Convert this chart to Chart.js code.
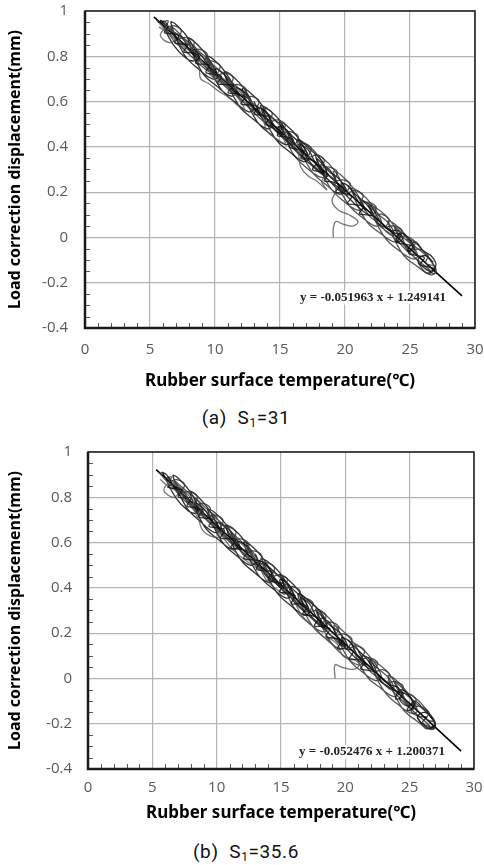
<!DOCTYPE html>
<html>
<head>
<meta charset="utf-8">
<script src="https://cdn.jsdelivr.net/npm/chart.js@4.4.1/dist/chart.umd.min.js"></script>
<style>
  body { margin: 0; background: #fff; width: 484px; height: 865px; position: relative; overflow: hidden; }
  canvas { position: absolute; left: 0; }
  #chartA { top: 0; }
  #chartB { top: 440px; }
  .caption { position: absolute; left: 4px; width: 484px; text-align: center; font: 19px Roboto, sans-serif; letter-spacing: 0.6px; color: #111; line-height: 20px; }
  .caption sub { font-size: 12px; vertical-align: -3px; }
</style>
</head>
<body>
<canvas id="chartA" width="484" height="400"></canvas>
<div class="caption" style="top:408px">(a)&nbsp;&nbsp;S<sub>1</sub>=31</div>
<canvas id="chartB" width="484" height="395"></canvas>
<div class="caption" style="top:842px">(b)&nbsp;&nbsp;S<sub>1</sub>=35.6</div>
<script>
const xTicks = [0, 5, 10, 15, 20, 25, 30];
const yTicks = [-0.4, -0.2, 0, 0.2, 0.4, 0.6, 0.8, 1];

// (a) S1=31 : traces, [temperature, displacement]
const traceA1 = [[5.6,0.95],[6.0,0.955],[6.4,0.93],[6.1,0.905],[6.6,0.90],[7.2,0.89],[6.9,0.86],[7.4,0.855],[7.9,0.85],[7.6,0.82],[8.2,0.815],[8.8,0.80],[8.5,0.77],[9.1,0.765],[9.6,0.76],[9.3,0.73],[9.9,0.72],[10.5,0.71],[10.2,0.68],[10.8,0.675],[11.4,0.67],[11.0,0.64],[11.7,0.635],[12.3,0.62],[12.0,0.59],[12.7,0.585],[13.3,0.575],[13.0,0.545],[13.6,0.54],[14.2,0.53],[13.9,0.50],[14.5,0.49],[15.1,0.48],[14.8,0.45],[15.4,0.445],[16.0,0.43],[15.7,0.40],[16.3,0.39],[16.9,0.38],[16.6,0.35],[17.2,0.345],[17.8,0.33],[17.5,0.30],[18.1,0.29],[18.7,0.28],[18.4,0.25],[19.0,0.245],[19.6,0.23],[19.3,0.20],[19.9,0.195],[20.5,0.18],[20.2,0.15],[20.8,0.145],[21.4,0.135],[21.1,0.105],[21.7,0.10],[22.3,0.09],[22.6,0.06],[23.2,0.04],[23.8,0.02],[24.3,0.01],[24.0,-0.02],[24.6,-0.03],[25.2,-0.04],[24.9,-0.07],[25.5,-0.08],[26.1,-0.09],[25.8,-0.12],[26.4,-0.13],[26.9,-0.14],[26.5,-0.16]];
const traceA2 = [[26.8,-0.125],[26.2,-0.113],[26.4,-0.079],[25.8,-0.053],[25.2,-0.051],[25.4,-0.022],[24.8,0.004],[24.2,0.006],[24.4,0.030],[23.8,0.051],[23.2,0.048],[23.4,0.077],[22.8,0.103],[22.2,0.095],[22.4,0.134],[21.8,0.155],[21.2,0.152],[21.4,0.186],[20.8,0.207],[20.2,0.199],[20.4,0.238],[19.8,0.254],[19.2,0.251],[19.4,0.290],[18.8,0.311],[18.2,0.308],[18.4,0.342],[17.8,0.363],[17.2,0.355],[17.4,0.394],[16.8,0.415],[16.2,0.407],[16.4,0.446],[15.8,0.467],[15.2,0.464],[15.4,0.498],[14.8,0.519],[14.2,0.511],[14.4,0.550],[13.8,0.571],[13.2,0.568],[13.4,0.602],[12.8,0.623],[12.2,0.615],[12.4,0.654],[11.8,0.675],[11.2,0.672],[11.4,0.706],[10.8,0.727],[10.2,0.719],[10.4,0.758],[9.8,0.779],[9.2,0.776],[9.4,0.810],[8.8,0.831],[8.2,0.823],[8.4,0.862],[7.8,0.883],[7.2,0.880],[7.4,0.914],[6.8,0.935],[6.2,0.927],[6.4,0.956],[5.9,0.952]];
const traceA3 = [[5.7,0.93],[6.3,0.905],[6.9,0.875],[6.5,0.86],[5.8,0.89],[6.2,0.92],[7.0,0.90],[7.8,0.86],[8.6,0.80],[8.8,0.74],[8.9,0.70],[9.5,0.68],[10.3,0.645],[11.0,0.62],[11.8,0.58],[12.3,0.555],[12.0,0.60],[11.2,0.65],[10.0,0.70],[9.6,0.725],[10.4,0.71],[11.5,0.66],[12.6,0.61],[13.5,0.555],[14.0,0.47],[14.6,0.44],[15.4,0.415],[15.2,0.45],[15.8,0.43],[16.4,0.37],[16.6,0.31],[17.2,0.27],[17.8,0.25],[18.6,0.21],[18.2,0.25],[18.9,0.27],[19.3,0.21],[19.0,0.16],[19.5,0.12],[20.3,0.10],[21.0,0.07],[20.6,0.05],[19.8,0.06],[19.3,0.07],[19.1,0.04],[19.1,0.0]];
const traceA4 = [[5.8,0.96],[6.5,0.92],[7.1,0.875],[6.8,0.905],[7.5,0.88],[8.0,0.83],[8.6,0.795],[8.3,0.83],[9.0,0.80],[9.7,0.74],[10.3,0.71],[10.0,0.745],[10.7,0.72],[11.3,0.66],[11.9,0.625],[11.6,0.66],[12.3,0.64],[12.9,0.575],[13.5,0.54],[13.2,0.575],[13.9,0.555],[14.6,0.49],[15.2,0.45],[14.9,0.49],[15.6,0.47],[16.2,0.41],[16.8,0.37],[16.5,0.41],[17.2,0.385],[17.8,0.32],[18.4,0.28],[18.1,0.32],[18.8,0.30],[19.4,0.24],[20.0,0.20],[19.7,0.24],[20.4,0.22],[21.0,0.16],[21.6,0.12],[21.3,0.16],[22.0,0.14],[22.5,0.09],[23.0,0.05],[23.6,0.03],[24.1,0.03],[24.4,-0.01],[23.9,-0.02],[24.3,0.02],[25.0,-0.01],[25.3,-0.05],[24.8,-0.06],[25.4,-0.02],[26.0,-0.06],[26.6,-0.08],[27.0,-0.12],[26.6,-0.15],[26.0,-0.13],[25.6,-0.10],[26.2,-0.08],[26.8,-0.11]];
const traceA5 = [[6.0,0.95],[6.8,0.87],[7.6,0.83],[8.4,0.79],[8.8,0.78],[8.4,0.84],[7.6,0.88],[6.9,0.92],[6.6,0.93],[7.2,0.86],[8.0,0.81],[8.8,0.765],[9.6,0.73],[10.0,0.725],[9.6,0.78],[8.8,0.82],[8.2,0.855],[8.0,0.86],[8.8,0.78],[9.6,0.735],[10.4,0.69],[11.2,0.645],[11.6,0.64],[11.2,0.69],[10.4,0.735],[9.6,0.775],[9.4,0.79],[10.2,0.71],[11.0,0.665],[11.8,0.62],[12.6,0.575],[13.0,0.565],[12.6,0.62],[11.8,0.66],[11.0,0.70],[10.8,0.71],[11.6,0.63],[12.4,0.585],[13.2,0.54],[14.0,0.50],[14.4,0.49]];
const traceA6 = [[13.0,0.60],[13.8,0.51],[14.6,0.475],[15.4,0.43],[16.0,0.41],[15.4,0.48],[14.6,0.52],[13.8,0.56],[13.6,0.57],[14.4,0.49],[15.2,0.445],[16.0,0.40],[16.8,0.355],[17.2,0.35],[16.8,0.40],[16.0,0.445],[15.2,0.49],[15.0,0.50],[15.8,0.41],[16.6,0.36],[17.4,0.32],[18.2,0.28],[18.6,0.28],[18.2,0.34],[17.4,0.385],[16.6,0.425],[16.4,0.43],[17.2,0.34],[18.0,0.295],[18.8,0.25],[19.6,0.205],[20.2,0.19],[19.6,0.255],[18.8,0.29],[18.0,0.34],[17.8,0.35],[18.6,0.26],[19.4,0.225],[20.2,0.18],[21.0,0.135],[21.8,0.10],[22.2,0.10],[21.6,0.15],[20.8,0.19],[20.2,0.23]];
const traceA7 = [[21.0,0.18],[21.8,0.10],[22.6,0.06],[23.4,0.015],[23.8,0.01],[23.4,0.06],[22.6,0.10],[22.0,0.13],[21.8,0.14],[22.6,0.055],[23.4,0.02],[24.2,-0.025],[25.0,-0.07],[25.4,-0.07],[25.0,-0.02],[24.2,0.03],[23.8,0.045],[24.6,-0.04],[25.4,-0.09],[26.2,-0.13],[26.8,-0.16],[27.0,-0.14],[26.4,-0.09],[25.6,-0.05],[24.9,-0.02],[24.4,0.0],[25.2,-0.08],[26.0,-0.12],[26.6,-0.15],[26.2,-0.155],[25.6,-0.11]];
const traceA8 = [[5.5,0.96],[6.3,0.91],[7.1,0.87],[7.9,0.83],[8.3,0.825],[7.7,0.87],[6.9,0.905],[6.5,0.925],[7.3,0.865],[8.1,0.82],[8.9,0.78],[9.7,0.74],[10.1,0.735],[9.5,0.775],[8.7,0.815],[8.5,0.825],[9.3,0.755],[10.1,0.715],[10.9,0.675],[11.7,0.63],[12.5,0.59],[12.9,0.585],[12.3,0.63],[11.5,0.67],[11.1,0.69],[11.9,0.62],[12.7,0.58],[13.5,0.535],[14.3,0.495],[15.1,0.455],[15.5,0.45],[14.9,0.50],[14.1,0.54],[13.7,0.555],[14.5,0.48],[15.3,0.44],[16.1,0.40],[16.9,0.36],[17.3,0.355]];
const traceA9 = [[5.8,0.96],[6.8,0.85],[7.8,0.79],[8.4,0.78],[8.6,0.80],[8.0,0.875],[7.0,0.94],[6.6,0.95],[7.6,0.81],[8.8,0.74],[9.8,0.70],[10.2,0.71],[9.4,0.80],[8.4,0.865],[7.9,0.88],[9.0,0.73],[10.2,0.665],[11.2,0.625],[11.6,0.64],[10.8,0.73],[9.8,0.79],[9.3,0.80],[10.4,0.66],[11.6,0.595],[12.6,0.555],[13.0,0.57],[12.2,0.66],[11.2,0.72],[10.7,0.73],[11.8,0.585],[13.0,0.52],[14.0,0.48],[14.4,0.495],[13.6,0.585],[12.6,0.645],[12.1,0.655],[13.2,0.515],[14.4,0.45],[15.4,0.41],[15.8,0.425],[15.0,0.515],[14.0,0.57],[13.5,0.58],[14.6,0.44],[15.8,0.375],[16.8,0.335],[17.2,0.35],[16.4,0.44],[15.4,0.50],[14.9,0.51]];
const traceA10 = [[15.0,0.50],[16.0,0.37],[17.2,0.30],[18.2,0.265],[18.6,0.28],[17.8,0.37],[16.8,0.42],[16.3,0.43],[17.4,0.295],[18.6,0.23],[19.6,0.19],[20.0,0.205],[19.2,0.295],[18.2,0.355],[17.7,0.365],[18.8,0.225],[20.0,0.155],[21.0,0.12],[21.4,0.135],[20.6,0.22],[19.6,0.28],[19.1,0.29],[20.2,0.15],[21.4,0.085],[22.4,0.05],[22.8,0.07],[22.0,0.15],[21.0,0.205],[20.5,0.215],[21.6,0.075],[22.8,0.015],[23.8,-0.02],[24.2,0.0],[23.4,0.08],[22.4,0.13],[21.9,0.14],[23.0,0.005],[24.2,-0.06],[25.2,-0.095],[25.6,-0.08],[24.8,0.0],[23.8,0.06],[23.3,0.07],[24.4,-0.07],[25.6,-0.13],[26.6,-0.165],[27.0,-0.15],[26.2,-0.07],[25.2,-0.015],[24.7,-0.01]];
const fitA = [[5.3, 0.974], [29.0, -0.258]];
const eqA = 'y = -0.051963 x + 1.249141';

// (b) S1=35.6
const traceB1 = [[5.7,0.911],[6.1,0.90],[6.5,0.859],[6.2,0.845],[6.7,0.839],[7.3,0.832],[7.0,0.803],[7.5,0.797],[8.0,0.796],[7.7,0.761],[8.3,0.755],[8.9,0.743],[8.6,0.714],[9.2,0.708],[9.7,0.701],[9.4,0.672],[10.0,0.666],[10.6,0.654],[10.3,0.620],[10.9,0.618],[11.5,0.612],[11.1,0.578],[11.8,0.571],[12.4,0.560],[12.1,0.530],[12.8,0.524],[13.4,0.517],[13.1,0.483],[13.7,0.476],[14.3,0.470],[14.0,0.436],[14.6,0.424],[15.2,0.418],[14.9,0.383],[15.5,0.377],[16.1,0.365],[15.8,0.331],[16.4,0.330],[17.0,0.318],[16.7,0.284],[17.3,0.278],[17.9,0.266],[17.6,0.232],[18.2,0.230],[18.8,0.219],[18.5,0.185],[19.1,0.178],[19.7,0.167],[19.4,0.132],[20.0,0.131],[20.6,0.119],[20.3,0.085],[20.9,0.084],[21.5,0.072],[21.2,0.043],[21.8,0.036],[22.4,0.025],[22.8,-0.016],[23.4,-0.038],[24.0,-0.059],[24.5,-0.065],[24.2,-0.089],[24.8,-0.121],[25.4,-0.112],[25.1,-0.142],[25.7,-0.168],[26.3,-0.170],[26.0,-0.194],[26.6,-0.215],[27.0,-0.216],[26.7,-0.211]];
const traceB2 = [[26.9,-0.191],[26.3,-0.180],[26.5,-0.150],[25.9,-0.124],[25.3,-0.122],[25.5,-0.093],[24.9,-0.066],[24.3,-0.065],[24.5,-0.035],[23.9,-0.014],[23.3,-0.017],[23.5,0.012],[22.9,0.039],[22.3,0.030],[22.5,0.070],[21.9,0.091],[21.3,0.088],[21.5,0.122],[20.9,0.144],[20.3,0.135],[20.5,0.175],[19.9,0.196],[19.3,0.193],[19.5,0.227],[18.9,0.249],[18.3,0.240],[18.5,0.280],[17.9,0.301],[17.3,0.298],[17.5,0.332],[16.9,0.354],[16.3,0.345],[16.5,0.384],[15.9,0.406],[15.3,0.402],[15.5,0.437],[14.9,0.458],[14.3,0.450],[14.5,0.489],[13.9,0.511],[13.3,0.507],[13.5,0.542],[12.9,0.563],[12.3,0.555],[12.5,0.594],[11.9,0.616],[11.3,0.612],[11.5,0.647],[10.9,0.668],[10.3,0.660],[10.5,0.699],[9.9,0.721],[9.3,0.717],[9.5,0.752],[8.9,0.773],[8.3,0.765],[8.5,0.804],[7.9,0.826],[7.3,0.822],[7.5,0.857],[6.9,0.878],[6.3,0.870],[6.5,0.889],[6.0,0.886]];
const traceB3 = [[5.6,0.88],[6.2,0.85],[7.0,0.82],[6.6,0.80],[5.9,0.83],[6.3,0.86],[7.2,0.84],[8.0,0.77],[8.6,0.70],[8.9,0.655],[9.5,0.63],[10.2,0.625],[10.0,0.66],[10.8,0.60],[11.4,0.56],[12.3,0.52],[13.2,0.485],[14.0,0.47],[13.6,0.50],[12.6,0.53],[12.0,0.55],[12.8,0.545],[13.8,0.44],[14.5,0.40],[15.3,0.37],[15.0,0.40],[15.9,0.35],[16.6,0.28],[17.3,0.24],[18.2,0.19],[19.0,0.15],[18.6,0.18],[19.4,0.15],[19.8,0.10],[20.6,0.085],[21.1,0.06],[20.6,0.04],[19.7,0.05],[19.2,0.06],[19.2,0.0]];
const traceB4 = [[5.8,0.90],[6.5,0.86],[7.1,0.81],[6.8,0.845],[7.5,0.82],[8.0,0.77],[8.6,0.74],[8.3,0.775],[9.0,0.75],[9.7,0.69],[10.3,0.655],[10.0,0.69],[10.7,0.665],[11.3,0.605],[11.9,0.57],[11.6,0.605],[12.3,0.585],[12.9,0.52],[13.5,0.485],[13.2,0.52],[13.9,0.50],[14.6,0.435],[15.2,0.395],[14.9,0.435],[15.6,0.415],[16.2,0.35],[16.8,0.315],[16.5,0.355],[17.2,0.33],[17.8,0.265],[18.4,0.225],[18.1,0.265],[18.8,0.245],[19.4,0.18],[20.0,0.145],[19.7,0.18],[20.4,0.16],[21.0,0.095],[21.6,0.06],[21.3,0.10],[22.0,0.08],[22.5,0.02],[23.0,-0.01],[23.6,-0.03],[24.1,-0.04],[24.4,-0.08],[23.9,-0.09],[24.3,-0.05],[25.0,-0.08],[25.3,-0.13],[24.8,-0.14],[25.4,-0.10],[26.0,-0.13],[26.6,-0.16],[27.0,-0.20],[26.6,-0.22],[26.0,-0.20],[25.6,-0.17],[26.2,-0.15],[26.8,-0.18]];
const traceB5 = [[6.2,0.89],[7.0,0.815],[7.8,0.77],[8.6,0.725],[9.0,0.72],[8.6,0.78],[7.8,0.82],[7.0,0.86],[6.8,0.87],[7.6,0.79],[8.4,0.745],[9.2,0.70],[10.0,0.66],[10.4,0.65],[10.0,0.71],[9.2,0.75],[8.4,0.795],[8.2,0.80],[9.0,0.715],[9.8,0.67],[10.6,0.625],[11.4,0.585],[11.8,0.58],[11.4,0.63],[10.6,0.675],[9.8,0.715],[9.6,0.725],[10.4,0.645],[11.2,0.60],[12.0,0.555],[12.8,0.51],[13.2,0.505],[12.8,0.56],[12.0,0.60],[11.2,0.645],[11.0,0.655],[11.8,0.565],[12.6,0.52],[13.4,0.48],[14.2,0.44],[14.6,0.43]];
const traceB6 = [[13.0,0.55],[13.8,0.455],[14.6,0.42],[15.4,0.375],[16.0,0.355],[15.4,0.425],[14.6,0.465],[13.8,0.505],[13.6,0.515],[14.4,0.435],[15.2,0.39],[16.0,0.345],[16.8,0.30],[17.2,0.295],[16.8,0.345],[16.0,0.39],[15.2,0.435],[15.0,0.445],[15.8,0.355],[16.6,0.305],[17.4,0.265],[18.2,0.225],[18.6,0.225],[18.2,0.285],[17.4,0.33],[16.6,0.37],[16.4,0.375],[17.2,0.285],[18.0,0.24],[18.8,0.195],[19.6,0.15],[20.2,0.135],[19.6,0.20],[18.8,0.235],[18.0,0.285],[17.8,0.295],[18.6,0.205],[19.4,0.17],[20.2,0.125],[21.0,0.08],[21.8,0.045],[22.2,0.04],[21.6,0.09],[20.8,0.135],[20.2,0.17]];
const traceB7 = [[21.0,0.12],[21.8,0.04],[22.6,0.0],[23.4,-0.045],[23.8,-0.05],[23.4,0.0],[22.6,0.04],[22.0,0.07],[21.8,0.08],[22.6,-0.005],[23.4,-0.04],[24.2,-0.085],[25.0,-0.13],[25.4,-0.13],[25.0,-0.08],[24.2,-0.03],[23.8,-0.015],[24.6,-0.10],[25.4,-0.15],[26.2,-0.19],[26.8,-0.225],[27.0,-0.205],[26.4,-0.155],[25.6,-0.115],[24.9,-0.08],[24.4,-0.06],[25.2,-0.14],[26.0,-0.18],[26.6,-0.215],[26.2,-0.22],[25.6,-0.17]];
const traceB8 = [[5.5,0.91],[6.3,0.86],[7.1,0.82],[7.9,0.775],[8.3,0.775],[7.7,0.815],[6.9,0.855],[6.5,0.875],[7.3,0.815],[8.1,0.77],[8.9,0.725],[9.7,0.685],[10.1,0.68],[9.5,0.72],[8.7,0.76],[8.5,0.77],[9.3,0.70],[10.1,0.66],[10.9,0.62],[11.7,0.575],[12.5,0.535],[12.9,0.53],[12.3,0.575],[11.5,0.615],[11.1,0.635],[11.9,0.565],[12.7,0.525],[13.5,0.48],[14.3,0.44],[15.1,0.40],[15.5,0.395],[14.9,0.445],[14.1,0.485],[13.7,0.50],[14.5,0.425],[15.3,0.385],[16.1,0.345],[16.9,0.305],[17.3,0.30]];
const traceB9 = [[5.8,0.91],[6.8,0.80],[7.8,0.74],[8.4,0.73],[8.6,0.75],[8.0,0.82],[7.0,0.885],[6.6,0.895],[7.6,0.76],[8.8,0.69],[9.8,0.645],[10.2,0.655],[9.4,0.745],[8.4,0.81],[7.9,0.825],[9.0,0.675],[10.2,0.61],[11.2,0.57],[11.6,0.585],[10.8,0.675],[9.8,0.735],[9.3,0.745],[10.4,0.605],[11.6,0.54],[12.6,0.50],[13.0,0.515],[12.2,0.605],[11.2,0.665],[10.7,0.675],[11.8,0.53],[13.0,0.465],[14.0,0.425],[14.4,0.44],[13.6,0.53],[12.6,0.59],[12.1,0.60],[13.2,0.46],[14.4,0.395],[15.4,0.355],[15.8,0.37],[15.0,0.46],[14.0,0.515],[13.5,0.525],[14.6,0.385],[15.8,0.32],[16.8,0.28],[17.2,0.295],[16.4,0.385],[15.4,0.445],[14.9,0.455]];
const traceB10 = [[15.0,0.445],[16.0,0.313],[17.2,0.242],[18.2,0.206],[18.6,0.22],[17.8,0.31],[16.8,0.36],[16.3,0.37],[17.4,0.235],[18.6,0.17],[19.6,0.13],[20.0,0.145],[19.2,0.235],[18.2,0.295],[17.7,0.305],[18.8,0.165],[20.0,0.095],[21.0,0.06],[21.4,0.075],[20.6,0.16],[19.6,0.22],[19.1,0.23],[20.2,0.09],[21.4,0.025],[22.4,-0.01],[22.8,0.01],[22.0,0.09],[21.0,0.145],[20.5,0.155],[21.6,0.015],[22.8,-0.045],[23.8,-0.08],[24.2,-0.06],[23.4,0.02],[22.4,0.07],[21.9,0.08],[23.0,-0.055],[24.2,-0.12],[25.2,-0.155],[25.6,-0.14],[24.8,-0.06],[23.8,0.0],[23.3,0.01],[24.4,-0.13],[25.6,-0.19],[26.6,-0.225],[27.0,-0.21],[26.2,-0.13],[25.2,-0.075],[24.7,-0.07]];
const fitB = [[5.3, 0.922], [29.0, -0.321]];
const eqB = 'y = -0.052476 x + 1.200371';

const tickFont = { family: '"Open Sans", sans-serif', size: 15 };
const xTitleFont = { family: '"Noto Sans", sans-serif', size: 17, weight: 'bold' };
const yTitleFont = { family: '"Noto Sans", sans-serif', size: 16, weight: 'bold' };

// minor ticks, plot frame and the trendline equation
const framePlugin = {
  id: 'frame',
  beforeDatasetsDraw(chart, args, opts) {
    const { ctx, scales: { x, y } } = chart;
    ctx.save();
    ctx.font = 'bold 13px "Liberation Serif", serif';
    const w = ctx.measureText(opts.text).width;
    const cx = x.getPixelForValue(opts.x);
    const cy = y.getPixelForValue(opts.y);
    ctx.fillStyle = '#fff';
    ctx.fillRect(cx - w / 2 - 3, cy - 7, w + 6, 14);
    ctx.fillStyle = '#222';
    ctx.textAlign = 'center';
    ctx.textBaseline = 'middle';
    ctx.fillText(opts.text, cx, cy);
    ctx.restore();
  },
  afterDraw(chart) {
    const { ctx, chartArea: a, scales: { x, y } } = chart;
    ctx.save();
    ctx.strokeStyle = '#555';
    ctx.lineWidth = 1;
    ctx.beginPath();
    for (let v = 1; v < 30; v++) {
      if (v % 5 === 0) continue;
      const px = Math.round(x.getPixelForValue(v)) + 0.5;
      ctx.moveTo(px, a.bottom);
      ctx.lineTo(px, a.bottom - 5);
    }
    for (let i = 1; i < 28; i++) {
      if (i % 4 === 0) continue;
      const py = Math.round(y.getPixelForValue(-0.4 + i * 0.05)) + 0.5;
      ctx.moveTo(a.left, py);
      ctx.lineTo(a.left + 5, py);
    }
    ctx.stroke();
    ctx.strokeStyle = '#1a1a1a';
    ctx.lineWidth = 1.5;
    ctx.strokeRect(a.left, a.top, a.right - a.left, a.bottom - a.top);
    ctx.lineWidth = 2.5;
    ctx.beginPath();
    ctx.moveTo(a.left, a.top);
    ctx.lineTo(a.left, a.bottom);
    ctx.lineTo(a.right, a.bottom);
    ctx.stroke();
    ctx.restore();
  },
};

const toXY = (pts) => pts.map(([x, y]) => ({ x, y }));

const makeChart = (id, traces, fit, eq, eqPos, L) => {
  const colors = ['rgba(20,20,20,0.85)', 'rgba(55,55,55,0.85)', 'rgba(85,85,85,0.8)', 'rgba(15,15,15,0.85)', 'rgba(45,45,45,0.8)'];
  const datasets = traces.map((t, i) => ({
    data: toXY(t),
    showLine: true,
    borderColor: colors[i % colors.length],
    borderWidth: 1.3,
    pointRadius: 0,
    tension: 0.4,
  }));
  datasets.push({
    data: toXY(fit),
    showLine: true,
    borderColor: '#000',
    borderWidth: 1.6,
    pointRadius: 0,
    tension: 0,
  });
  // eslint-disable-next-line
  new Chart(document.getElementById(id), {
    type: 'scatter',
    data: { datasets },
    plugins: [framePlugin],
    options: {
      responsive: false,
      animation: false,
      layout: { padding: { top: L.top, right: L.right, left: 0, bottom: 0 } },
      plugins: {
        legend: { display: false },
        tooltip: { enabled: false },
        frame: { text: eq, x: eqPos[0], y: eqPos[1] },
      },
      scales: {
        x: {
          type: 'linear',
          min: 0,
          max: 30,
          afterBuildTicks: (s) => { s.ticks = xTicks.map((v) => ({ value: v })); },
          afterFit: (s) => { s.height = L.xh; s.paddingLeft = 0; s.paddingRight = 0; },
          ticks: { padding: L.xtp, color: '#595959', font: tickFont, callback: (v) => String(v) },
          grid: { color: '#b4b4b4', lineWidth: 1.2, drawTicks: false },
          border: { display: false },
          title: { display: true, text: 'Rubber surface temperature(℃)', color: '#000', font: xTitleFont, padding: { top: 0, bottom: L.xtb } },
        },
        y: {
          type: 'linear',
          min: -0.4,
          max: 1,
          afterBuildTicks: (s) => { s.ticks = yTicks.map((v) => ({ value: v })); },
          afterFit: (s) => { s.width = L.yw; s.paddingTop = 0; s.paddingBottom = 0; },
          ticks: { padding: L.ytp, color: '#595959', font: tickFont, callback: (v) => String(v) },
          grid: { color: '#b4b4b4', lineWidth: 1.2, drawTicks: false },
          border: { display: false },
          title: { display: true, text: 'Load correction displacement(mm)', color: '#000', font: yTitleFont, padding: { top: 6, bottom: 0 } },
        },
      },
    },
  });
};

makeChart('chartA', [traceA1, traceA2, traceA3, traceA4, traceA5, traceA6, traceA7, traceA8, traceA9, traceA10], fitA, eqA, [22.15, -0.265],
  { top: 11, right: 9, xh: 72, xtp: 13, xtb: 9, yw: 85, ytp: 17 });
makeChart('chartB', [traceB1, traceB2, traceB3, traceB4, traceB5, traceB6, traceB7, traceB8, traceB9, traceB10], fitB, eqB, [22.07, -0.325],
  { top: 12, right: 10, xh: 66, xtp: 10, xtb: 12, yw: 88, ytp: 16 });
</script>
</body>
</html>
